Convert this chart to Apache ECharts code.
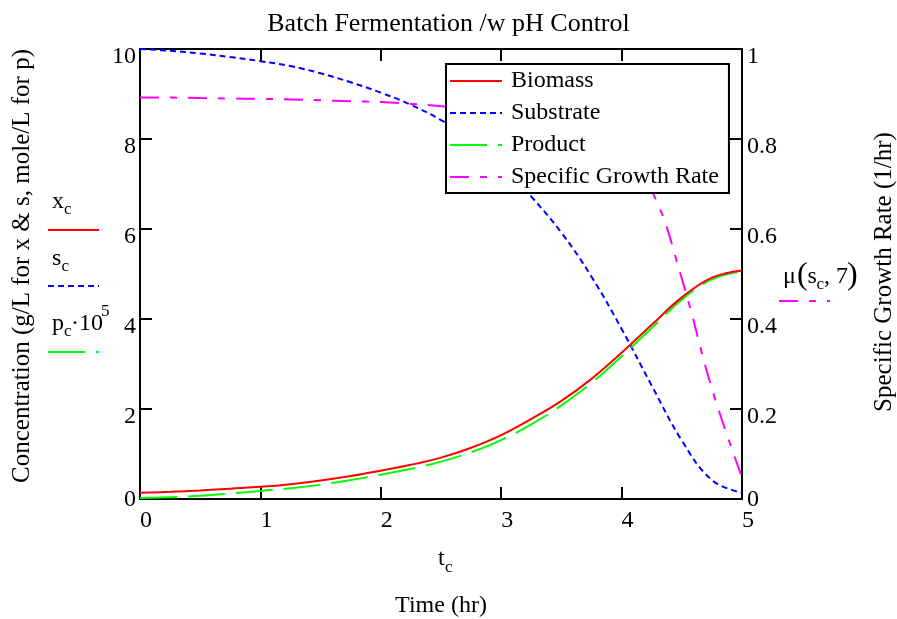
<!DOCTYPE html>
<html>
<head>
<meta charset="utf-8">
<script src="https://cdn.jsdelivr.net/npm/echarts@6/dist/echarts.min.js"></script>
<style>html,body{margin:0;padding:0;background:#fff}#c{width:897px;height:619px}</style>
</head>
<body>
<div id="c"></div>
<script>
// time (hr)
const timeHr = [0,0.25,0.5,0.75,1,1.25,1.5,1.75,2,2.25,2.5,2.75,3,3.25,3.5,3.75,4,4.25,4.5,4.75,5];
// Biomass x_c (g/L)
const biomass = [0.14,0.16,0.19,0.23,0.27,0.33,0.41,0.51,0.63,0.76,0.92,1.14,1.42,1.78,2.18,2.67,3.25,3.87,4.48,4.92,5.08];
// Substrate s_c (g/L)
const substrate = [10,9.96,9.9,9.82,9.73,9.62,9.46,9.26,9.03,8.76,8.42,7.99,7.44,6.72,5.92,4.94,3.78,2.52,1.3,0.42,0.14];
// Product p_c*10^5 (mole/L)
const product = [0.02,0.04,0.07,0.12,0.18,0.24,0.32,0.42,0.54,0.67,0.83,1.04,1.31,1.66,2.08,2.58,3.17,3.8,4.43,4.88,5.06];
// Specific growth rate mu(s_c,7) (1/hr)
const growthRate = [0.892,0.892,0.891,0.890,0.889,0.888,0.886,0.884,0.882,0.878,0.873,0.866,0.858,0.846,0.830,0.805,0.76,0.685,0.49,0.245,0.048];
const leftTicks = [0,2,4,6,8,10];
const rightTicks = [0,0.2,0.4,0.6,0.8,1];
const xTicks = [0,1,2,3,4,5];

const FONT = 'Liberation Serif';
const FS = 24;
const SUB = 17;
const pair = (ys) => timeHr.map((t,i)=>[t, ys[i]]);
const chart = echarts.init(document.getElementById('c'), null, {renderer:'canvas'});

const axisLine = {show:true, onZero:false, lineStyle:{color:'#000', width:2}};
const tick = {show:true, inside:true, length:12, lineStyle:{color:'#000', width:2}};

const L = 140, R = 742, T = 49, B = 499;
const f = (s) => s + 'px "' + FONT + '"';
const txt = (text, x, y, size, extra) => Object.assign({type:'text', x, y, style:Object.assign({text, font:f(size), fill:'#000', verticalAlign:'middle'}, extra||{})});
const yLab = (v) => v === 0 ? '{z|0}' : '{n|' + v + '}';
const yRich = {
  z:{fontFamily:FONT, fontSize:FS, color:'#000', lineHeight:2},
  n:{fontFamily:FONT, fontSize:FS, color:'#000', lineHeight:16}
};

chart.setOption({
  animation:false,
  textStyle:{fontFamily:FONT},
  grid:{left:L, right:897-R, top:T, bottom:619-B, containLabel:false},
  title:{text:'Batch Fermentation /w pH Control', left:'center', top:6, textStyle:{fontFamily:FONT, fontSize:26, fontWeight:'normal', color:'#000'}},
  legend:{
    orient:'vertical', left:446, top:64,
    itemWidth:52, itemHeight:22, itemGap:8,
    padding:[5,10,4,3],
    borderColor:'#000', borderWidth:2, backgroundColor:'#fff',
    itemStyle:{opacity:0},
    textStyle:{fontFamily:FONT, fontSize:FS, color:'#000', padding:[0,0,0,4]},
    data:['Biomass','Substrate','Product','Specific Growth Rate']
  },
  xAxis:[
    {type:'value', position:'bottom', min:0, max:5, interval:1,
     axisLine, axisTick:tick, splitLine:{show:false},
     axisLabel:{color:'#000', fontSize:FS, fontFamily:FONT, margin:10, align:'left'}},
    {type:'value', position:'top', min:0, max:5, interval:1,
     axisLine, axisTick:tick, splitLine:{show:false}, axisLabel:{show:false}}
  ],
  yAxis:[
    {type:'value', position:'left', min:0, max:10, interval:2,
     axisLine, axisTick:tick, splitLine:{show:false},
     axisLabel:{color:'#000', fontSize:FS, fontFamily:FONT, margin:4, verticalAlign:'top', lineHeight:16, formatter:yLab, rich:yRich}},
    {type:'value', position:'right', min:0, max:1, interval:0.2,
     axisLine, axisTick:tick, splitLine:{show:false},
     axisLabel:{color:'#000', fontSize:FS, fontFamily:FONT, margin:5, verticalAlign:'top', lineHeight:16, formatter:yLab, rich:yRich}}
  ],
  series:[
    {name:'Biomass', type:'line', data:pair(biomass), xAxisIndex:0, yAxisIndex:0, symbol:'none', smooth:0.4, z:5,
     lineStyle:{color:'#ff0000', width:2, type:'solid'}, itemStyle:{color:'#ff0000'}},
    {name:'Substrate', type:'line', data:pair(substrate), xAxisIndex:0, yAxisIndex:0, symbol:'none', smooth:0.4, z:3,
     lineStyle:{color:'#0000ff', width:2, type:[6,4]}, itemStyle:{color:'#0000ff'}},
    {name:'Product', type:'line', data:pair(product), xAxisIndex:0, yAxisIndex:0, symbol:'none', smooth:0.4, z:4,
     lineStyle:{color:'#00ff00', width:2, type:[37,11]}, itemStyle:{color:'#00ff00'}},
    {name:'Specific Growth Rate', type:'line', data:pair(growthRate), xAxisIndex:0, yAxisIndex:1, symbol:'none', smooth:0.4, z:3,
     lineStyle:{color:'#ff00ff', width:2, type:[19,11,7,11]}, itemStyle:{color:'#ff00ff'}}
  ],
  graphic:[
    // axis titles
    Object.assign(txt('Concentration (g/L for x & s, mole/L for p)', 22, 266, 25, {align:'center'}), {rotation:Math.PI/2}),
    Object.assign(txt('Specific Growth Rate (1/hr)', 884, 272, 25, {align:'center'}), {rotation:Math.PI/2}),
    // x axis variable + title
    txt('t', 438, 559, FS),
    txt('c', 445, 568, SUB),
    txt('Time (hr)', 441, 606, FS, {align:'center'}),
    // left variable keys
    txt('x', 52, 202, FS),
    txt('c', 64, 210, SUB),
    {type:'line', shape:{x1:48, y1:230, x2:99, y2:230}, style:{stroke:'#ff0000', lineWidth:2}},
    txt('s', 52, 259, FS),
    txt('c', 61.5, 267, SUB),
    {type:'line', shape:{x1:48, y1:286, x2:99, y2:286}, style:{stroke:'#0000ff', lineWidth:2, lineDash:[6,4]}},
    txt('p', 52, 324, FS),
    txt('c', 64, 332, SUB),
    txt('·10', 71, 324, FS),
    txt('5', 101, 312, SUB),
    {type:'line', shape:{x1:48, y1:352, x2:99, y2:352}, style:{stroke:'#00ff00', lineWidth:2, lineDash:[37,11]}},
    // right variable key
    txt('μ', 783, 277, FS),
    txt('(', 797, 276, 32),
    txt('s', 807.5, 277, FS),
    txt('c', 816.5, 285, SUB),
    txt(', 7', 824, 277, FS),
    txt(')', 847, 276, 32),
    {type:'line', shape:{x1:779, y1:301, x2:830, y2:301}, style:{stroke:'#ff00ff', lineWidth:2, lineDash:[19,11,7,11]}}
  ]
});
</script>
</body>
</html>
